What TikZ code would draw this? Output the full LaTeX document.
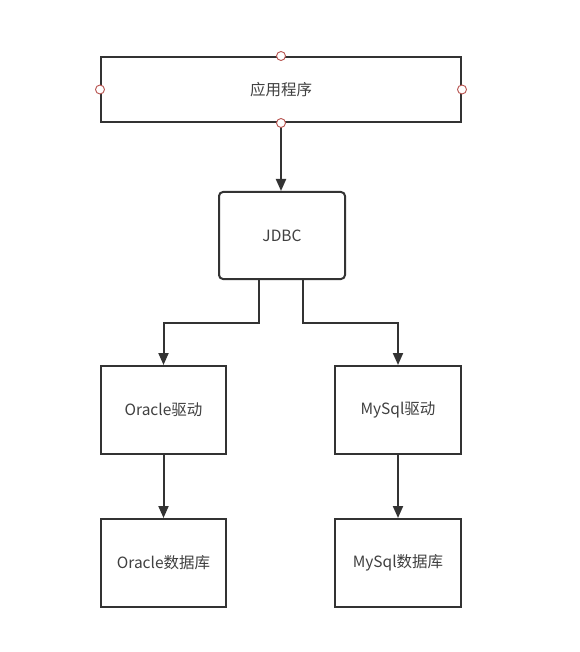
\documentclass[tikz,border=0pt]{standalone}
\usepackage{fontspec}
\setmainfont{Noto Sans CJK SC}
\usetikzlibrary{arrows.meta}
\definecolor{ln}{HTML}{333333}
\definecolor{tx}{HTML}{404040}
\definecolor{pt}{HTML}{B85450}
\begin{document}
\begin{tikzpicture}[x=1pt,y=-1pt,
  box/.style={draw=ln,line width=2pt,fill=white,text=tx,font=\fontsize{15.5}{18}\selectfont,inner sep=0pt},
  conn/.style={draw=ln,line width=2pt,-{Triangle[width=10pt,length=12pt]}},
  port/.style={circle,draw=pt,fill=white,line width=0.9pt,minimum size=9pt,inner sep=0pt}]
\useasboundingbox (0,0) rectangle (579,652);
\node[box,minimum width=360pt,minimum height=65pt] (app) at (281,89.5) {应用程序};
\node[box,rounded corners=4pt,minimum width=126pt,minimum height=87pt] (jdbc) at (282,235.5) {JDBC};
\node[box,minimum width=125pt,minimum height=88pt] (od) at (163.5,410) {Oracle驱动};
\node[box,minimum width=126pt,minimum height=88pt] (md) at (398,410) {MySql驱动};
\node[box,minimum width=125pt,minimum height=88pt] (odb) at (163.5,563) {Oracle数据库};
\node[box,minimum width=126pt,minimum height=88pt] (mdb) at (398,563) {MySql数据库};
\draw[conn] (app.south -| 281,0) -- (jdbc.north -| 281,0);
\draw[conn] (jdbc.south -| 259,0) -- (259,323) -| (od.north);
\draw[conn] (jdbc.south -| 303,0) -- (303,323) -| (md.north);
\draw[conn] (od) -- (odb);
\draw[conn] (md) -- (mdb);
\node[port] (p1) at (app.north) {};
\node[port] (p2) at (app.south) {};
\node[port] (p3) at (app.west) {};
\node[port] (p4) at (app.east) {};
\end{tikzpicture}
\end{document}
